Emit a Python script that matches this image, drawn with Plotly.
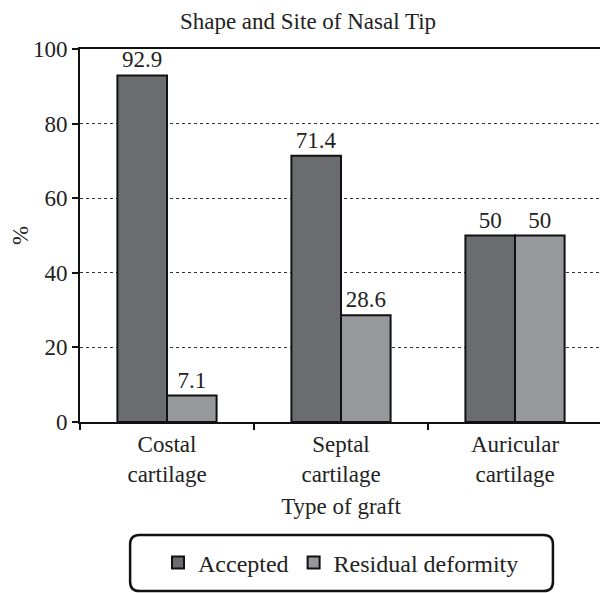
import plotly.graph_objects as go

categories = ["Costal<br>cartilage", "Septal<br>cartilage", "Auricular<br>cartilage"]
accepted = [92.9, 71.4, 50]
residual = [7.1, 28.6, 50]
accepted_labels = ["92.9", "71.4", "50"]
residual_labels = ["7.1", "28.6", "50"]

FONT = "Liberation Serif"
FS = 23
fig = go.Figure()
fig.add_trace(go.Bar(
    x=categories, y=accepted, name="Accepted", text=accepted_labels,
    textposition="outside", cliponaxis=False, textfont=dict(size=FS),
    marker=dict(color="#6b6c70", line=dict(color="#111111", width=2)),
))
fig.add_trace(go.Bar(
    x=categories, y=residual, name="Residual deformity", text=residual_labels,
    textposition="outside", cliponaxis=False, textfont=dict(size=FS),
    marker=dict(color="#97989c", line=dict(color="#111111", width=2)),
))
# page body has an 8px margin, so the figure is 600x585 and offset by 8px
fig.update_layout(
    width=600, height=585,
    margin=dict(l=72, r=6, t=41, b=171, autoexpand=False),
    paper_bgcolor="white", plot_bgcolor="white",
    font=dict(family=FONT, size=FS, color="#222222"),
    barmode="group", bargap=0.43, bargroupgap=0,
    title=dict(text="Shape and Site of Nasal Tip", x=0.5, xanchor="center",
               y=1 - 13 / 585, yanchor="middle", font=dict(size=FS)),
    showlegend=True,
    legend=dict(orientation="h", x=0.5, xanchor="center", y=-0.378, yanchor="middle",
                font=dict(size=FS + 1), bgcolor="rgba(0,0,0,0)", borderwidth=0,
                traceorder="normal"),
)
fig.update_xaxes(
    automargin=False,
    showline=True, linecolor="#111111", linewidth=2, mirror=True,
    ticks="outside", tickson="boundaries", ticklen=6, tickwidth=2, tickcolor="#111111",
    showgrid=False, tickfont=dict(size=FS),
    title=dict(text="Type of graft", font=dict(size=FS), standoff=12),
)
fig.update_yaxes(
    automargin=False,
    range=[0, 100], dtick=20, showline=True, linecolor="#111111", linewidth=2, mirror=True,
    ticks="outside", ticklen=6, tickwidth=2, tickcolor="#111111",
    showgrid=True, gridcolor="#333333", gridwidth=1, griddash="dot",
    zeroline=False, tickfont=dict(size=FS),
    title=dict(text="%", font=dict(size=FS), standoff=12),
)
# rounded legend frame (paper coordinates)
x0, x1, y0, y1 = 0.096, 0.906, -0.453, -0.303
rx, ry = 0.018, 0.025
path = (f"M {x0+rx},{y1} L {x1-rx},{y1} Q {x1},{y1} {x1},{y1-ry} L {x1},{y0+ry} "
        f"Q {x1},{y0} {x1-rx},{y0} L {x0+rx},{y0} Q {x0},{y0} {x0},{y0+ry} "
        f"L {x0},{y1-ry} Q {x0},{y1} {x0+rx},{y1} Z")
fig.add_shape(type="path", xref="paper", yref="paper", path=path,
              line=dict(color="#111111", width=2.5))
fig.write_html("out.html")
